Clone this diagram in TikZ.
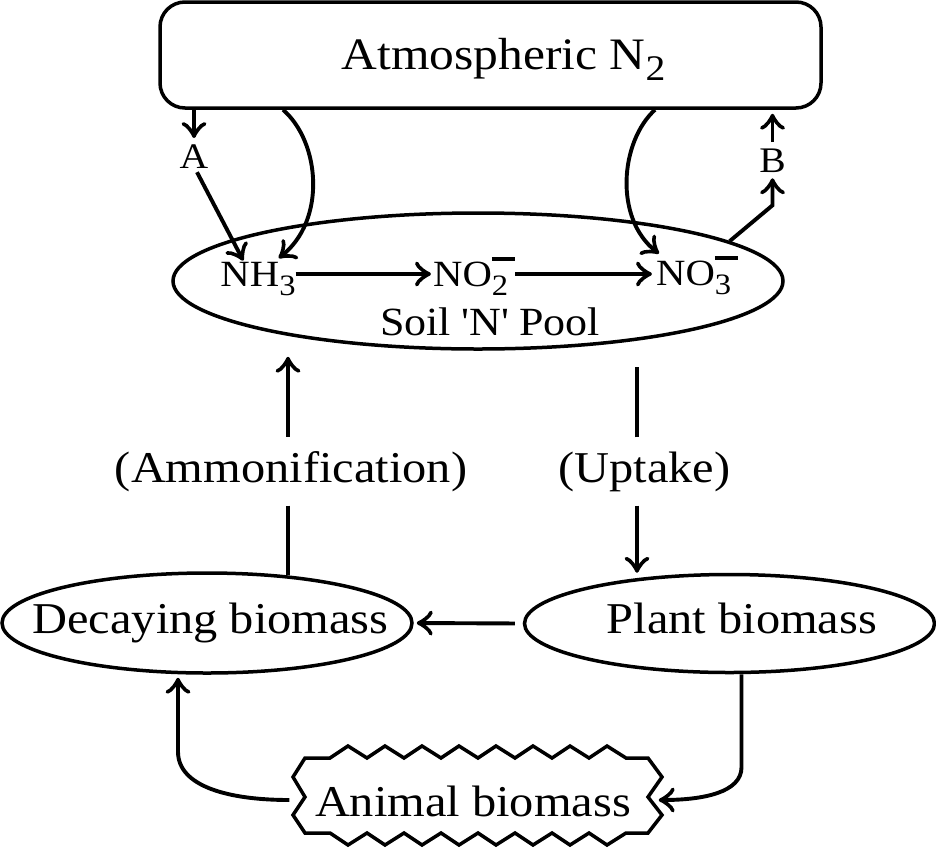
\documentclass[tikz,border=0pt]{standalone}
\usepackage{graphicx}
\usepackage{fontspec}
\setmainfont[FakeStretch=1.1]{Liberation Serif}
\usetikzlibrary{arrows.meta,shapes.geometric}
\newcommand\sub[1]{\raisebox{-0.25em}{\scalebox{0.8}{#1}}}
\newcommand\ionm[2]{#1\rlap{\sub{#2}}\raisebox{0.68em}{\rule{0.62em}{0.11em}}}
\tikzset{
  lw/.style={line width=3.5pt},
  cw/.style={line width=3.9pt},
  arr/.style={cw,-{Classical TikZ Rightarrow[length=16pt,width=25pt,line width=3.6pt]}},
  big/.style={font=\fontsize{44}{48}\selectfont,inner sep=0pt},
  chem/.style={font=\fontsize{37}{40}\selectfont,inner sep=0pt},
  lab/.style={font=\fontsize{36}{38}\selectfont,inner sep=0pt},
  ell/.style={draw,lw,ellipse,inner sep=0pt},
}
\begin{document}
\begin{tikzpicture}[x=1pt,y=-1pt]
\useasboundingbox (0,0) rectangle (936,849);
% top box
\node[draw,lw,rounded corners=25pt,minimum width=661pt,minimum height=106pt,inner sep=0pt] (atm) at (490.5,55) {};
\node[big,font=\fontsize{45}{48}\selectfont,anchor=base] (atmt) at (503.5,69) {Atmospheric N\sub{2}};
% soil pool
\node[ell,minimum width=610pt,minimum height=136pt] (soil) at (478,281) {};
\node[chem,anchor=base] (nh3) at (258,286) {NH\sub{3}};
\node[chem,anchor=base] (no2) at (474,286) {\ionm{NO}{2}};
\node[chem,anchor=base] (no3) at (697,285) {\ionm{NO}{3}};
\node[big,font=\fontsize{40}{44}\selectfont,anchor=base] (pool) at (490,335) {Soil \textquotesingle N\textquotesingle{} Pool};
\node[lab,anchor=base] (A) at (194,168) {A};
\node[lab,anchor=base] (B) at (772.5,172) {B};
% biomass
\node[ell,minimum width=410pt,minimum height=100pt] (dec) at (207,623) {};
\node[big,anchor=base] (dect) at (210.5,633) {Decaying biomass};
\node[ell,minimum width=410pt,minimum height=98pt] (plant) at (729.5,623.5) {};
\node[big,anchor=base] (plantt) at (742,633) {Plant biomass};
\node[big,anchor=base,inner ysep=14pt] (amm) at (291,482) {(Ammonification)};
\node[big,anchor=base,inner ysep=14pt] (upt) at (644.5,482) {(Uptake)};
\node[big,minimum width=343pt] (anim) at (473,801) {Animal biomass};
% zigzag outline of animal biomass
\draw[lw,line join=miter] (305,797) -- (293,777) -- (305,758) -- (330,758)
  \foreach \i in {0,...,7} { -- ({348+37*\i},746) -- ({367+37*\i},758) }
  -- (648,758) -- (662,777) -- (648,797) -- (662,815) -- (648,833) -- (626,833)
  \foreach \i in {7,6,...,0} { -- ({348+37*\i},845) -- ({330+37*\i},833) }
  -- (305,833) -- (293,815) -- cycle;
% connectors top
\draw[arr] (A.north |- atm.south) -- ([yshift=6pt]A.north);
\draw[arr] ([xshift=3pt,yshift=-4pt]A.south) -- ([xshift=23pt,yshift=1pt]nh3.north west);
\draw[arr] ([xshift=-207.5pt]atm.south) .. controls +(37,32) and +(48,-38) .. ([xshift=-17pt,yshift=3.5pt]nh3.north east);
\draw[arr] ([xshift=164.5pt]atm.south) .. controls +(-35,32) and +(-45,-35) .. ([xshift=3pt,yshift=2pt]no3.north west);
\draw[arr,shorten >=2pt] ([yshift=12pt]nh3.base east) -- ([yshift=12pt]no2.base west);
\draw[arr,shorten >=4pt] ([yshift=12pt]no2.base east) -- ([yshift=11pt]no3.base west);
\draw[arr] (soil.9) -- ([yshift=-33pt]B.south) -- ([yshift=-6pt]B.south);
\draw[arr,shorten >=4pt] ([yshift=6pt]B.north) -- (B.north |- atm.south);
% middle connectors
\coordinate (ammn) at ([xshift=-3pt]amm.north);
\coordinate (amms) at ([xshift=-3pt]amm.south);
\coordinate (uptn) at ([xshift=-7.5pt]upt.north);
\coordinate (upts) at ([xshift=-7.5pt]upt.south);
\draw[arr,shorten >=6pt] (ammn) -- (ammn |- soil.south);
\draw[cw,shorten >=-4pt] (amms) -- (amms |- dec.north);
\draw[cw,shorten >=16pt] (uptn) -- (uptn |- soil.south);
\draw[arr] (upts) -- (upts |- plant.north);
% bottom connectors
\draw[arr,shorten <=8pt,shorten >=3pt] (plant.west) -- (dec.east);
\draw[arr] ([xshift=12pt]plant.south) -- ++(0,93) .. controls +(0,25) and +(45,0) .. ([xshift=14pt,yshift=1pt]anim.east);
\draw[arr] ([xshift=-12pt,yshift=1pt]anim.west) .. controls +(-60,0) and +(0,35) .. ([xshift=-29pt,yshift=-77pt]dec.south) -- ([xshift=-29pt,yshift=-3pt]dec.south);
\end{tikzpicture}
\end{document}
